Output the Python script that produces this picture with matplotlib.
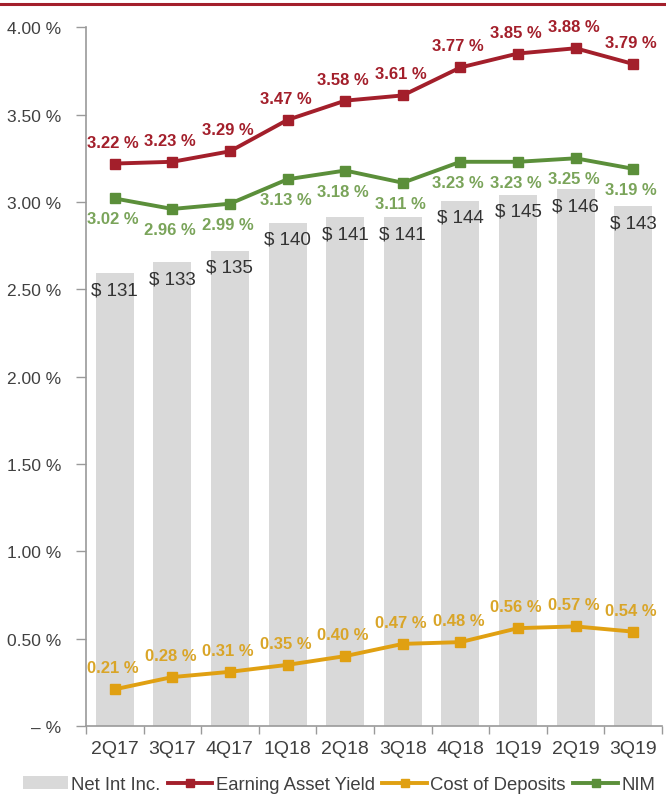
import matplotlib
matplotlib.use("Agg")
import matplotlib.pyplot as plt
from matplotlib.lines import Line2D
from matplotlib.patches import Patch

plt.rcParams['font.family'] = ['Liberation Sans', 'DejaVu Sans']

quarters = ["2Q17", "3Q17", "4Q17", "1Q18", "2Q18", "3Q18", "4Q18", "1Q19", "2Q19", "3Q19"]
net_int_inc = [131, 133, 135, 140, 141, 141, 144, 145, 146, 143]
earning_asset_yield = [3.22, 3.23, 3.29, 3.47, 3.58, 3.61, 3.77, 3.85, 3.88, 3.79]
cost_of_deposits = [0.21, 0.28, 0.31, 0.35, 0.40, 0.47, 0.48, 0.56, 0.57, 0.54]
nim = [3.02, 2.96, 2.99, 3.13, 3.18, 3.11, 3.23, 3.23, 3.25, 3.19]
yticks = [0, 0.5, 1.0, 1.5, 2.0, 2.5, 3.0, 3.5, 4.0]
ytick_labels = ["\u2013 %", "0.50 %", "1.00 %", "1.50 %", "2.00 %", "2.50 %", "3.00 %", "3.50 %", "4.00 %"]

RED = "#a31f2b"
GREEN = "#5b8f3a"
GREEN_TXT = "#7aa45a"
ORANGE = "#e0a012"
ORANGE_TXT = "#d9a528"
BAR = "#d9d9d9"
AXC = "#9a9a9a"
TXT = "#404040"

fig = plt.figure(figsize=(6.66, 8.04), dpi=100)
ax = fig.add_axes([0.129, 0.0958, 0.865, 0.869])
ax2 = ax.twinx()
ax.set_zorder(ax2.get_zorder() + 1)
ax.patch.set_visible(False)

x = list(range(len(quarters)))

# bars on hidden secondary axis
bars = ax2.bar(x, net_int_inc, width=0.66, color=BAR, zorder=1)
ax2.set_ylim(50, 175)
ax2.set_yticks([])
for s in ax2.spines.values():
    s.set_visible(False)
for xi, v in zip(x, net_int_inc):
    ax2.annotate(f"$ {v}", (xi, v), xytext=(0, -8), textcoords="offset pixels",
                 ha="center", va="top", fontsize=13.5, color="#333333")

ms = 7.5
ax.plot(x, earning_asset_yield, color=RED, lw=2.8, marker="s", ms=ms, zorder=3)
ax.plot(x, nim, color=GREEN, lw=2.8, marker="s", ms=ms, zorder=3)
ax.plot(x, cost_of_deposits, color=ORANGE, lw=2.8, marker="s", ms=ms, zorder=3)

for xi, v in zip(x, earning_asset_yield):
    ax.annotate(f"{v:.2f} %", (xi, v), xytext=(-2, 14), textcoords="offset pixels",
                ha="center", va="bottom", fontsize=12, color=RED, fontweight="bold")
for xi, v in zip(x, nim):
    ax.annotate(f"{v:.2f} %", (xi, v), xytext=(-2, -13), textcoords="offset pixels",
                ha="center", va="top", fontsize=12, color=GREEN_TXT, fontweight="bold")
for xi, v in zip(x, cost_of_deposits):
    ax.annotate(f"{v:.2f} %", (xi, v), xytext=(-2, 14), textcoords="offset pixels",
                ha="center", va="bottom", fontsize=12, color=ORANGE_TXT, fontweight="bold")

ax.set_ylim(0, 4.0)
ax.set_xlim(-0.5, len(quarters) - 0.5)
ax.set_yticks(yticks)
ax.set_yticklabels(ytick_labels, fontsize=12.5, color=TXT)
ax.set_xticks(x)
ax.set_xticklabels(quarters, fontsize=14, color=TXT)
ax.tick_params(axis="x", which="major", length=0, pad=10)
ax.set_xticks([i + 0.5 for i in x[:-1]] + [-0.5, len(quarters) - 0.5], minor=True)
ax.tick_params(axis="x", which="minor", length=6, color=AXC, width=1)
ax.tick_params(axis="y", length=7, color=AXC, width=1, pad=11)
for side in ["top", "right"]:
    ax.spines[side].set_visible(False)
ax.spines["left"].set_color(AXC)
ax.spines["bottom"].set_color(AXC)
ax.spines["left"].set_linewidth(1.2)
ax.spines["bottom"].set_linewidth(1.2)

# top rule
fig.add_artist(Line2D([0, 1], [0.9938, 0.9938], transform=fig.transFigure,
                      color=RED, lw=2.2))

handles = [
    Patch(facecolor=BAR, edgecolor="none"),
    Line2D([], [], color=RED, lw=2.8, marker="s", ms=6),
    Line2D([], [], color=ORANGE, lw=2.8, marker="s", ms=6),
    Line2D([], [], color=GREEN, lw=2.8, marker="s", ms=6),
]
labels = ["Net Int Inc.", "Earning Asset Yield", "Cost of Deposits", "NIM"]
fig.legend(handles, labels, loc="center left", bbox_to_anchor=(0.024, 0.023),
           ncol=4, frameon=False, fontsize=13.3, handlelength=2.4, handleheight=0.75,
           columnspacing=0.4, handletextpad=0.2, labelcolor=TXT, borderaxespad=0)

fig.savefig("out.png", dpi=100)
